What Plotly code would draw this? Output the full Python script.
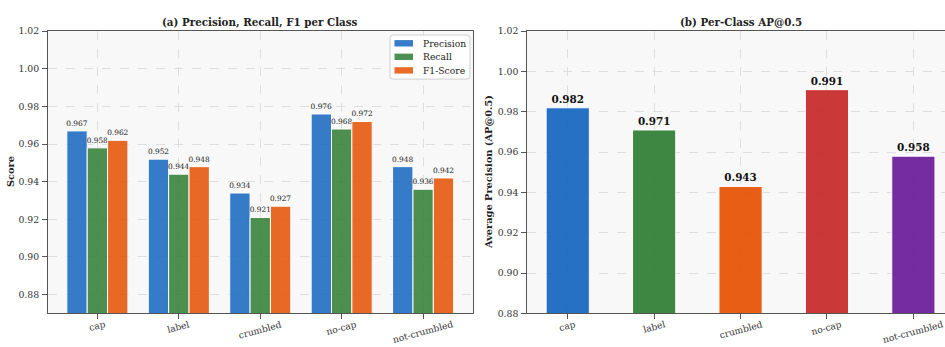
import plotly.graph_objects as go

# Per-class detection metrics
classes = ["cap", "label", "crumbled", "no-cap", "not-crumbled"]
precision = [0.967, 0.952, 0.934, 0.976, 0.948]
recall = [0.958, 0.944, 0.921, 0.968, 0.936]
f1_score = [0.962, 0.948, 0.927, 0.972, 0.942]
ap50 = [0.982, 0.971, 0.943, 0.991, 0.958]

metric_names = ["Precision", "Recall", "F1-Score"]
metric_colors = ["#1565C0", "#2E7D32", "#E65100"]
class_colors = ["#1565C0", "#2E7D32", "#E65100", "#C62828", "#6A1B9A"]
y_ticks = [0.88, 0.90, 0.92, 0.94, 0.96, 0.98, 1.00, 1.02]

W, H = 945, 347
FONT = "DejaVu Serif"
BAR_ALPHA = 0.85


def px_x(p):
    return p / W


def px_y(p):
    return 1 - p / H


def rgba(hex_color, a):
    h = hex_color.lstrip("#")
    r, g, b = (int(h[i:i + 2], 16) for i in (0, 2, 4))
    return f"rgba({r},{g},{b},{a})"


fig = go.Figure()

# (a) grouped bars: precision / recall / F1
offsets = [-0.375, -0.125, 0.125]
for name, vals, col, off in zip(metric_names, [precision, recall, f1_score],
                                metric_colors, offsets):
    fig.add_trace(go.Bar(
        x=classes, y=vals, name=name, width=0.25, offset=off,
        marker=dict(color=col, opacity=BAR_ALPHA, line=dict(color="white", width=1)),
        text=[f"{v:.3f}" for v in vals], textposition="outside",
        textfont=dict(family=FONT, size=7.4, color="#222"),
        constraintext="none", cliponaxis=False, showlegend=False,
        xaxis="x", yaxis="y", hoverinfo="skip",
    ))

# (b) AP@0.5 per class
fig.add_trace(go.Bar(
    x=classes, y=ap50, width=0.5, offset=-0.25, showlegend=False,
    marker=dict(color=class_colors, opacity=0.92, line=dict(color="white", width=1)),
    text=[f"<b>{v:.3f}</b>" for v in ap50], textposition="outside",
    textfont=dict(family=FONT, size=10.4, color="#111"),
    constraintext="none", cliponaxis=False,
    xaxis="x2", yaxis="y2", hoverinfo="skip",
))

axis_common = dict(
    showline=True, linecolor="#555", linewidth=1,
    ticks="outside", ticklen=4.5, tickcolor="#555", tickwidth=0.8,
    showgrid=True, gridcolor="#dedede", griddash="dash", gridwidth=0.7,
    zeroline=False, tickfont=dict(family=FONT, size=9.3, color="#333"),
)

left_dom = [px_x(47.5), px_x(473)]
right_dom = [px_x(526.7), 1.0]
y_dom = [px_y(317.5), px_y(26)]

fig.update_layout(
    width=W, height=H,
    margin=dict(l=0, r=0, t=0, b=0),
    paper_bgcolor="white", plot_bgcolor="#f8f8f8",
    barmode="overlay",
    font=dict(family=FONT, color="#222"),
    xaxis=dict(axis_common, domain=left_dom, type="category",
               categoryorder="array", categoryarray=classes,
               range=[-0.6125, 4.6125], showticklabels=False, mirror=True,
               anchor="y"),
    yaxis=dict(axis_common, domain=y_dom, range=[0.87, 1.02],
               tickvals=y_ticks, tickformat=".2f", mirror=True, anchor="x",
               ticklabelstandoff=1),
    xaxis2=dict(axis_common, domain=right_dom, type="category",
                categoryorder="array", categoryarray=classes,
                range=[-0.475, 4.366], showticklabels=False, mirror=True,
                anchor="y2"),
    yaxis2=dict(axis_common, domain=y_dom, range=[0.88, 1.02],
                tickvals=y_ticks, tickformat=".2f", mirror=False, anchor="x2",
                ticklabelstandoff=1),
    showlegend=False,
)

annotations = [
    dict(text="<b>(a) Precision, Recall, F1 per Class</b>", x=px_x(260), y=px_y(17),
         xref="paper", yref="paper", xanchor="center", yanchor="middle",
         showarrow=False, font=dict(family=FONT, size=10.3, color="#222")),
    dict(text="<b>(b) Per-Class AP@0.5</b>", x=px_x(740.5), y=px_y(17),
         xref="paper", yref="paper", xanchor="center", yanchor="middle",
         showarrow=False, font=dict(family=FONT, size=10.3, color="#222")),
    dict(text="<b>Score</b>", x=px_x(10), y=px_y(171.5), textangle=-90,
         xref="paper", yref="paper", xanchor="center", yanchor="middle",
         showarrow=False, font=dict(family=FONT, size=9.8, color="#222")),
    dict(text="<b>Average Precision (AP@0.5)</b>", x=px_x(488), y=px_y(171.5),
         textangle=-90, xref="paper", yref="paper", xanchor="center",
         yanchor="middle", showarrow=False,
         font=dict(family=FONT, size=9.8, color="#222")),
]

# Rotated category labels centred under each tick
for xa in ["x", "x2"]:
    for c in classes:
        annotations.append(dict(
            text=c, x=c, y=px_y(321), xref=xa, yref="paper",
            xanchor="center", yanchor="top", textangle=-15, showarrow=False,
            font=dict(family=FONT, size=9.1, color="#333"),
        ))

# Legend box for panel (a): rounded frame, wide colour patches, labels
shapes = []
lx0, lx1, ly0, ly1, rad = 390, 470, 30, 75.5, 3
path = (f"M {px_x(lx0 + rad)},{px_y(ly0)} L {px_x(lx1 - rad)},{px_y(ly0)} "
        f"Q {px_x(lx1)},{px_y(ly0)} {px_x(lx1)},{px_y(ly0 + rad)} "
        f"L {px_x(lx1)},{px_y(ly1 - rad)} "
        f"Q {px_x(lx1)},{px_y(ly1)} {px_x(lx1 - rad)},{px_y(ly1)} "
        f"L {px_x(lx0 + rad)},{px_y(ly1)} "
        f"Q {px_x(lx0)},{px_y(ly1)} {px_x(lx0)},{px_y(ly1 - rad)} "
        f"L {px_x(lx0)},{px_y(ly0 + rad)} "
        f"Q {px_x(lx0)},{px_y(ly0)} {px_x(lx0 + rad)},{px_y(ly0)} Z")
shapes.append(dict(type="path", path=path, xref="paper", yref="paper",
                   fillcolor="rgba(255,255,255,0.85)",
                   line=dict(color="#d0d0d0", width=1), layer="above"))
for i, (name, col) in enumerate(zip(metric_names, metric_colors)):
    yc = 38.5 + 14 * i
    shapes.append(dict(type="rect", xref="paper", yref="paper",
                       x0=px_x(394.5), x1=px_x(413), y0=px_y(yc - 3.3),
                       y1=px_y(yc + 3.3), fillcolor=rgba(col, BAR_ALPHA),
                       line=dict(width=0), layer="above"))
    annotations.append(dict(text=name, x=px_x(421), y=px_y(yc), xref="paper",
                            yref="paper", xanchor="left", yanchor="middle",
                            showarrow=False,
                            font=dict(family=FONT, size=9.2, color="#222")))

fig.update_layout(annotations=annotations, shapes=shapes)

fig.write_html("out.html")
